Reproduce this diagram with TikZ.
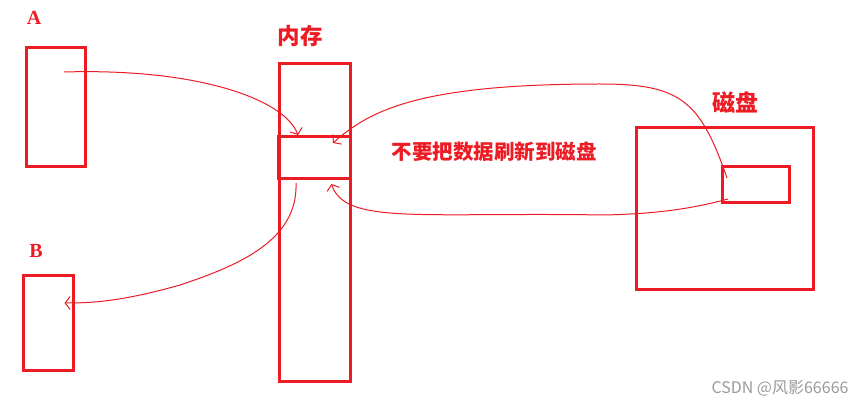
\documentclass[tikz,border=0pt]{standalone}
\usepackage{fontspec}
\setmainfont{Liberation Serif}
\newfontfamily\cjk{Noto Sans CJK SC}
\usetikzlibrary{positioning, calc, arrows.meta}
\definecolor{PaintRed}{HTML}{ED1C24}
\definecolor{markGray}{HTML}{9A9A9A}

\begin{document}
\begin{tikzpicture}[x=1pt, y=-1pt, font=\cjk\bfseries,
  box/.style={draw=PaintRed, line width=3pt, inner sep=0pt},
  tag/.style={text=PaintRed, inner sep=0pt},
  link/.style={draw=PaintRed, line width=1pt, -{Straight Barb[length=5pt, width=13pt]}}]
  \useasboundingbox (0,0) rectangle (868,406);
  \node[box, minimum width=59, minimum height=119] (A) at (56,107) {};
  \node[box, minimum width=50, minimum height=95] (B) at (48.5,322.75) {};
  \node[box, minimum width=71, minimum height=317] (mem) at (315,222.5) {};
  \node[box, minimum width=72, minimum height=42] (seg) at (314.5,157.5) {};
  \node[box, minimum width=177, minimum height=162] (disk) at (725,208.5) {};
  \node[box, minimum width=67, minimum height=36] (page) at (756,184.5) {};
  \node[tag, font=\rmfamily\bfseries\fontsize{20}{20}\selectfont] (la) at (34,18) {A};
  \node[tag, font=\rmfamily\bfseries\fontsize{20}{20}\selectfont] (lb) at (36,251) {B};
  \node[tag, font=\cjk\bfseries\fontsize{22.5}{22.5}\selectfont] (lmem) at (300,36) {内存};
  \node[tag, font=\cjk\bfseries\fontsize{23}{23}\selectfont] (ldisk) at (735,103) {磁盘};
  \node[tag, font=\cjk\bfseries\fontsize{20.5}{20.5}\selectfont] (note) at (494,152) {不要把数据刷新到磁盘};
  \node[text=markGray, inner sep=0pt, font=\cjk\fontsize{16}{16}\selectfont] (mark) at (780,388) {CSDN @风影66666};
  \coordinate (a-out) at ($(A.north)+(8,26)$);
  \coordinate (seg-top) at ($(seg.north)+(-16.5,0)$);
  \coordinate (seg-right) at ($(seg.east)+(-19,-14.5)$);
  \coordinate (seg-low) at ($(seg.south)+(17,4)$);
  \coordinate (seg-out) at ($(seg.south)+(-18.5,3)$);
  \coordinate (page-top) at ($(page.west)+(6,-6.5)$);
  \coordinate (page-low) at ($(page.west)+(7,14.5)$);
  \coordinate (b-in) at ($(B.east)+(-10.5,-19.75)$);
  \draw[link] (a-out) .. controls (200,68) and (285,100) .. (seg-top);
  \draw[link] (page-top) .. controls (700,100) and (680,84) .. (600,84)
    .. controls (420,84) and (370,110) .. (seg-right);
  \draw[link] (page-low) .. controls (680,212) and (640,214) .. (605,215)
    .. controls (420,212) and (345,225) .. (seg-low);
  \draw[link] (seg-out) .. controls (298,240) and (240,265) .. (180,285)
    .. controls (120,302) and (90,303) .. (b-in);
\end{tikzpicture}
\end{document}
